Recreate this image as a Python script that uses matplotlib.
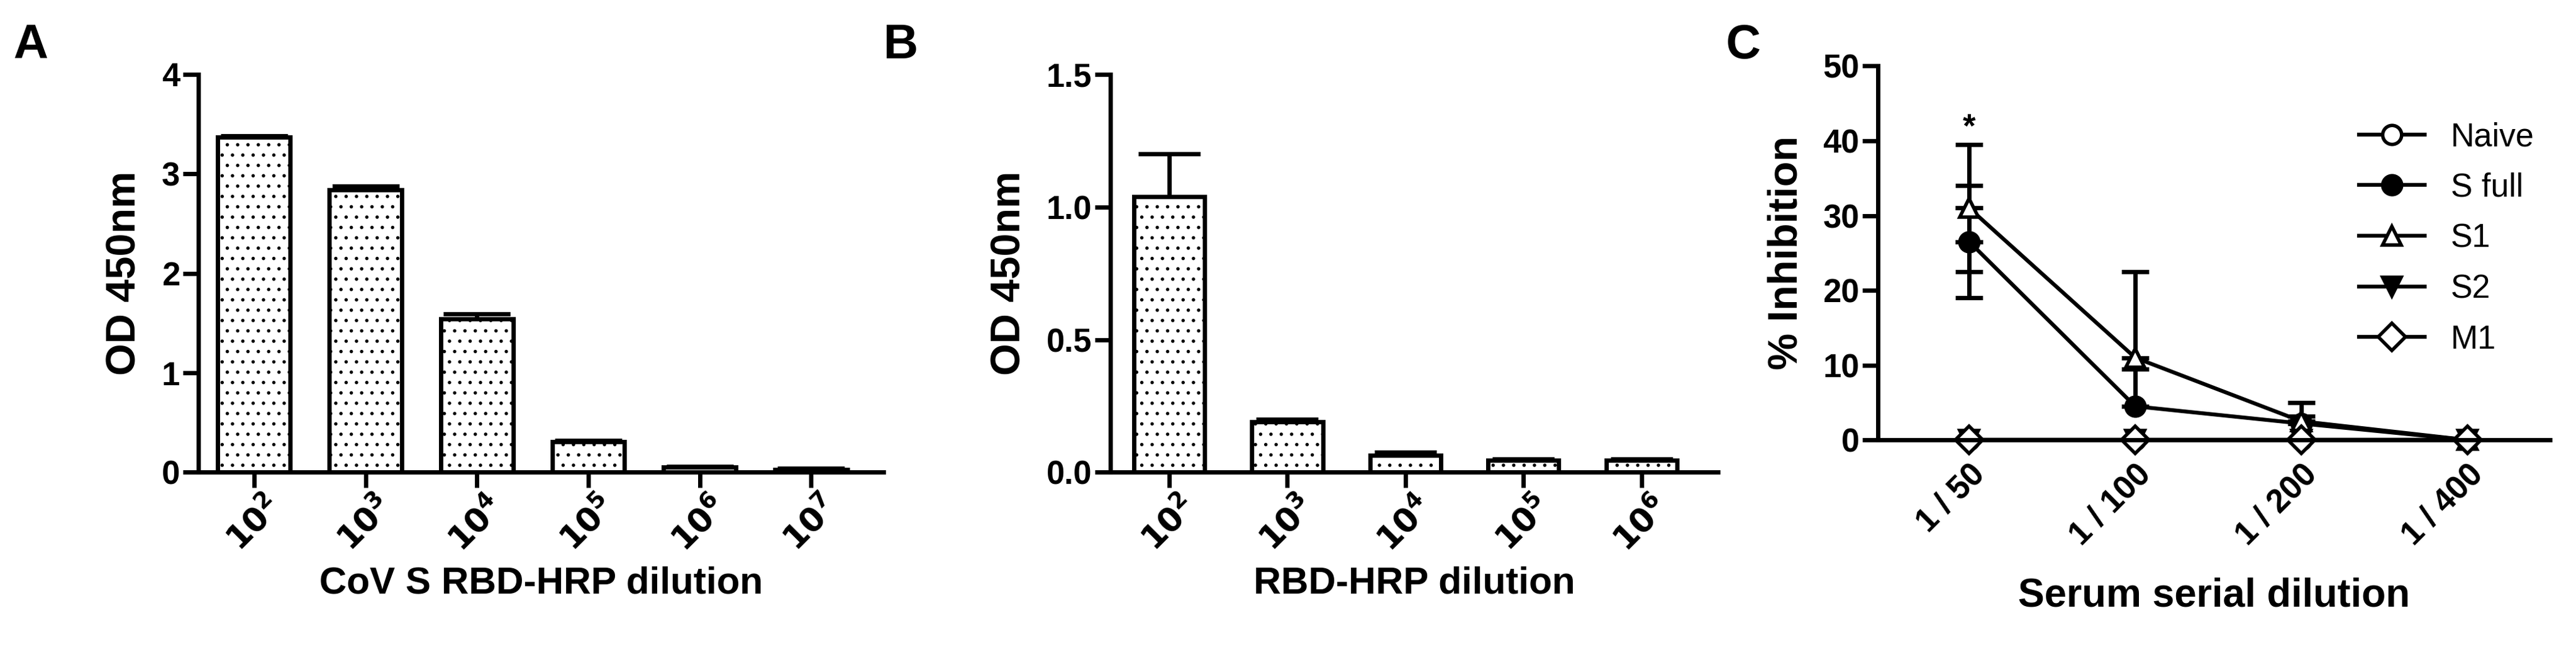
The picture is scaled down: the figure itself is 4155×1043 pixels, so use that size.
import matplotlib
matplotlib.use("Agg")
import matplotlib.pyplot as plt
import numpy as np

plt.rcParams['font.family'] = ['Liberation Sans', 'DejaVu Sans']
plt.rcParams['font.weight'] = 'bold'
plt.rcParams['hatch.color'] = '#888888'
plt.rcParams['hatch.linewidth'] = 1.5

a_labels = ['$10^2$', '$10^3$', '$10^4$', '$10^5$', '$10^6$', '$10^7$']
a_values = [3.37, 2.84, 1.54, 0.31, 0.05, 0.03]
a_errors = [0.01, 0.04, 0.05, 0.01, 0.01, 0.01]

b_labels = ['$10^2$', '$10^3$', '$10^4$', '$10^5$', '$10^6$']
b_values = [1.04, 0.19, 0.065, 0.045, 0.045]
b_errors = [0.16, 0.01, 0.01, 0.005, 0.005]

c_labels = ['1 / 50', '1 / 100', '1 / 200', '1 / 400']
naive = [0, 0, 0, 0]
s_full = [26.5, 4.5, 2.2, 0]
s_full_err = [7.5, 5.0, 1.0, 0]
s1 = [31.0, 11.0, 2.5, 0]
s1_err = [8.5, 11.5, 2.5, 0]
s2 = [0, 0, 0, 0]
m1 = [0, 0, 0, 0]

fig = plt.figure(figsize=(41.55, 10.43), dpi=100)
LW = 5

def style(ax):
    for s in ['top', 'right']:
        ax.spines[s].set_visible(False)
    for s in ['left', 'bottom']:
        ax.spines[s].set_linewidth(LW)
    ax.tick_params(width=LW, length=18, labelsize=38)
    for t in ax.get_xticklabels() + ax.get_yticklabels():
        t.set_fontweight('bold')

def bars(ax, labels, vals, errs, width):
    x = np.arange(len(vals))
    ax.bar(x, vals, width=width, color='white', edgecolor='black', linewidth=LW, hatch='.')
    ax.errorbar(x, vals, yerr=[np.zeros(len(errs)), errs], fmt='none', ecolor='black',
                elinewidth=LW, capsize=width*60, capthick=LW)
    ax.set_xticks(x)
    ax.set_xticklabels(labels, rotation=45, ha='center')
    ax.set_xlim(-0.5, len(vals) - 0.35)

axA = fig.add_axes([0.077, 0.27, 0.266, 0.615])
bars(axA, a_labels, a_values, a_errors, 0.65)
axA.set_ylim(0, 4)
axA.set_yticks([0, 1, 2, 3, 4])
axA.set_ylabel('OD 450nm', fontsize=48, fontweight='bold', labelpad=20)
axA.set_xlabel('CoV S RBD-HRP dilution', fontsize=44, fontweight='bold', labelpad=10)
style(axA)

axB = fig.add_axes([0.431, 0.27, 0.236, 0.615])
bars(axB, b_labels, b_values, b_errors, 0.6)
axB.set_ylim(0, 1.5)
axB.set_yticks([0, 0.5, 1.0, 1.5])
axB.set_yticklabels(['0.0', '0.5', '1.0', '1.5'])
axB.set_ylabel('OD 450nm', fontsize=48, fontweight='bold', labelpad=20)
axB.set_xlabel('RBD-HRP dilution', fontsize=44, fontweight='bold', labelpad=10)
style(axB)

axC = fig.add_axes([0.729, 0.32, 0.261, 0.578])
x = np.arange(4)
ms = 22
kw = dict(color='black', linewidth=4.5, markersize=ms, markeredgewidth=4, clip_on=False)
axC.errorbar(x, s_full, yerr=[np.zeros(4), s_full_err], fmt='none', ecolor='black', elinewidth=LW, capsize=16, capthick=LW, clip_on=False)
axC.errorbar(x, s1, yerr=[np.zeros(4), s1_err], fmt='none', ecolor='black', elinewidth=LW, capsize=16, capthick=LW, clip_on=False)
axC.errorbar(x[:1], s_full[:1], yerr=[[s_full_err[0]], [0]], fmt='none', ecolor='black', elinewidth=LW, capsize=16, capthick=LW)
axC.errorbar(x[:1], s1[:1], yerr=[[s1_err[0]], [0]], fmt='none', ecolor='black', elinewidth=LW, capsize=16, capthick=LW)
axC.plot(x, naive, marker='o', markerfacecolor='white', label='Naive', **kw)
axC.plot(x, s_full, marker='o', markerfacecolor='black', label='S full', **kw)
axC.plot(x, s1, marker='^', markerfacecolor='white', label='S1', **kw)
axC.plot(x, s2, marker='v', markerfacecolor='black', label='S2', **kw)
axC.plot(x, m1, marker='D', markerfacecolor='#222222', label='M1', **kw)
axC.text(0, 40.5, '*', ha='center', fontsize=38)
axC.set_xlim(-0.55, 3.5)
axC.set_ylim(0, 50)
axC.set_yticks([0, 10, 20, 30, 40, 50])
axC.set_xticks(x)
axC.set_xticklabels(c_labels, rotation=45, ha='right', rotation_mode='anchor')
axC.set_ylabel('% Inhibition', fontsize=48, fontweight='bold', labelpad=20)
axC.set_xlabel('Serum serial dilution', fontsize=46, fontweight='bold', labelpad=30)
style(axC)
axC.tick_params(axis='x', length=0, pad=22)
handles, labels = axC.get_legend_handles_labels()
handles[4].set_markerfacecolor('white')
leg = axC.legend(loc='upper right', bbox_to_anchor=(1.02, 0.93), frameon=False, fontsize=38,
                 handlelength=2.0, labelspacing=0.6)
for t in leg.get_texts():
    t.set_fontweight('normal')

fig.text(0.005, 0.93, 'A', fontsize=56, fontweight='bold', va='center')
fig.text(0.343, 0.93, 'B', fontsize=56, fontweight='bold', va='center')
fig.text(0.67, 0.93, 'C', fontsize=56, fontweight='bold', va='center')

fig.savefig('out.png', dpi=100)
